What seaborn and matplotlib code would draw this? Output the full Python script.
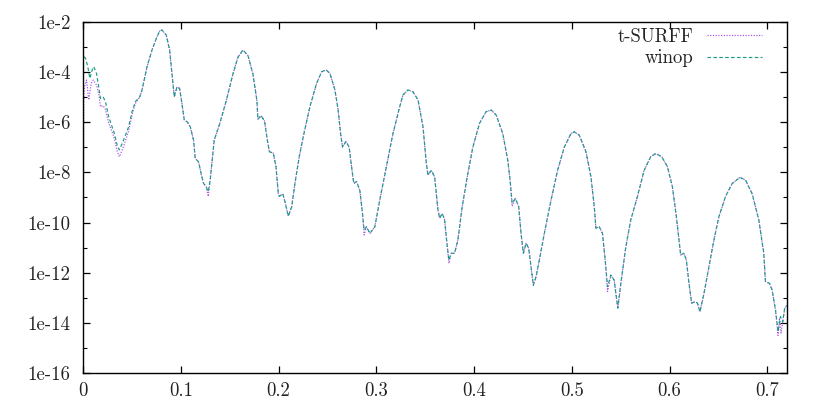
import matplotlib
matplotlib.use("Agg")
import matplotlib.pyplot as plt
import matplotlib.ticker as mticker
import seaborn as sns
import pandas as pd

# ---- data (x, spectrum value) ----
winop_x = [0.0010, 0.0026, 0.0049, 0.0070, 0.0094, 0.0110, 0.0138, 0.0161, 0.0179, 0.0206,
           0.0230, 0.0263, 0.0298, 0.0321, 0.0349, 0.0372, 0.0400, 0.0434, 0.0467, 0.0502,
           0.0536, 0.0580, 0.0604, 0.0655, 0.0706, 0.0757, 0.0785, 0.0808, 0.0852, 0.0886,
           0.0910, 0.0934, 0.0961, 0.0988, 0.1012, 0.1036, 0.1069, 0.1097, 0.1131, 0.1148,
           0.1182, 0.1216, 0.1233, 0.1260, 0.1281, 0.1301, 0.1318, 0.1342, 0.1398, 0.1466,
           0.1534, 0.1585, 0.1636, 0.1687, 0.1738, 0.1779, 0.1789, 0.1823, 0.1857, 0.1886,
           0.1906, 0.1947, 0.1974, 0.1998, 0.2010, 0.2043, 0.2066, 0.2100, 0.2135, 0.2168,
           0.2212, 0.2253, 0.2321, 0.2390, 0.2441, 0.2485, 0.2526, 0.2577, 0.2610, 0.2635,
           0.2655, 0.2689, 0.2723, 0.2747, 0.2770, 0.2798, 0.2832, 0.2859, 0.2876, 0.2900,
           0.2934, 0.2985, 0.3036, 0.3104, 0.3171, 0.3240, 0.3273, 0.3325, 0.3376, 0.3427,
           0.3478, 0.3512, 0.3529, 0.3563, 0.3597, 0.3631, 0.3648, 0.3675, 0.3699, 0.3723,
           0.3743, 0.3767, 0.3801, 0.3835, 0.3879, 0.3937, 0.3988, 0.4056, 0.4124, 0.4176,
           0.4227, 0.4294, 0.4345, 0.4369, 0.4390, 0.4423, 0.4457, 0.4481, 0.4505, 0.4533,
           0.4559, 0.4583, 0.4607, 0.4635, 0.4668, 0.4719, 0.4788, 0.4855, 0.4923, 0.4992,
           0.5026, 0.5077, 0.5145, 0.5196, 0.5230, 0.5247, 0.5281, 0.5314, 0.5342, 0.5366,
           0.5400, 0.5434, 0.5451, 0.5471, 0.5502, 0.5553, 0.5604, 0.5672, 0.5740, 0.5808,
           0.5859, 0.5920, 0.5978, 0.6029, 0.6070, 0.6114, 0.6148, 0.6172, 0.6199, 0.6226,
           0.6260, 0.6285, 0.6311, 0.6352, 0.6403, 0.6454, 0.6505, 0.6573, 0.6641, 0.6720,
           0.6777, 0.6845, 0.6913, 0.6964, 0.6981, 0.7022, 0.7049, 0.7084, 0.7110, 0.7135,
           0.7158, 0.7178, 0.7200]
winop_y = [4.0e-4, 3.5e-4, 1.6e-4, 5.5e-5, 1.2e-4, 1.6e-4, 8.7e-5, 2.5e-5, 8.7e-6, 1.0e-5,
           6.5e-6, 1.6e-6, 6.5e-7, 3.5e-7, 1.2e-7, 7.8e-8, 1.4e-7, 3.0e-7, 6.5e-7, 2.6e-6,
           6.5e-6, 1.0e-5, 1.9e-5, 1.6e-4, 7.4e-4, 2.5e-3, 4.2e-3, 4.6e-3, 2.9e-3, 7.4e-4,
           8.7e-5, 1.0e-5, 2.5e-5, 2.2e-5, 5.5e-6, 1.2e-6, 1.0e-6, 6.5e-7, 1.9e-7, 3.6e-8,
           2.6e-8, 6.6e-9, 3.6e-9, 2.7e-9, 1.7e-9, 4.9e-9, 2.3e-8, 1.9e-7, 8.5e-7, 7.2e-6,
           8.3e-5, 3.8e-4, 7.4e-4, 4.5e-4, 8.3e-5, 7.2e-6, 1.3e-6, 1.8e-6, 1.1e-6, 1.9e-7,
           6.6e-8, 5.8e-8, 1.7e-8, 1.4e-9, 1.1e-9, 1.4e-9, 6.8e-10, 1.8e-10, 4.3e-10, 3.6e-9,
           4.2e-8, 2.6e-7, 4.1e-6, 3.5e-5, 1.0e-4, 1.2e-4, 8.7e-5, 1.9e-5, 3.0e-6, 3.5e-7,
           1.0e-7, 1.7e-7, 1.0e-7, 1.7e-8, 3.6e-9, 4.3e-9, 1.9e-9, 2.3e-10, 5.0e-11, 6.8e-11,
           3.7e-11, 6.8e-11, 7.9e-10, 1.7e-8, 3.5e-7, 4.1e-6, 1.2e-5, 1.9e-5, 1.6e-5, 7.6e-6,
           6.5e-7, 2.3e-8, 7.8e-9, 1.2e-8, 6.6e-9, 3.2e-10, 1.5e-10, 2.3e-10, 1.3e-10, 1.5e-11,
           3.2e-12, 6.0e-12, 6.0e-12, 2.0e-11, 4.3e-10, 9.1e-9, 1.0e-7, 8.9e-7, 2.6e-6, 3.0e-6,
           1.9e-6, 3.5e-7, 3.1e-8, 4.9e-9, 5.9e-10, 9.1e-10, 4.3e-10, 3.7e-11, 6.0e-12, 1.5e-11,
           9.5e-12, 1.7e-12, 3.2e-13, 7.1e-13, 3.2e-12, 3.7e-11, 7.9e-10, 1.2e-8, 1.0e-7, 3.5e-7,
           4.1e-7, 3.0e-7, 6.6e-8, 6.6e-9, 4.3e-10, 5.9e-11, 6.8e-11, 3.7e-11, 3.2e-12, 2.8e-13,
           8.1e-13, 5.1e-13, 1.5e-13, 3.9e-14, 3.8e-13, 1.1e-11, 1.3e-10, 1.1e-9, 1.2e-8, 4.2e-8,
           5.6e-8, 4.2e-8, 1.7e-8, 2.7e-9, 1.7e-10, 5.1e-12, 6.0e-12, 3.2e-12, 3.8e-13, 6.2e-14,
           7.1e-14, 6.3e-14, 2.8e-14, 1.5e-13, 1.7e-12, 2.0e-11, 1.7e-10, 1.1e-9, 3.6e-9, 6.3e-9,
           4.9e-9, 1.4e-9, 1.3e-10, 6.0e-12, 4.5e-13, 3.8e-13, 2.1e-13, 3.3e-14, 4.6e-15, 1.8e-14,
           1.1e-14, 3.9e-14, 5.0e-14]

tsurff_x = [0.0000, 0.0008, 0.0015, 0.0036, 0.0059, 0.0084, 0.0104, 0.0138, 0.0161, 0.0179,
            0.0206, 0.0230, 0.0263, 0.0298, 0.0321, 0.0349, 0.0372, 0.0400, 0.0434, 0.0467,
            0.0502, 0.0536, 0.0580, 0.0604, 0.0655, 0.0706, 0.0757, 0.0785, 0.0808, 0.0852,
            0.0886, 0.0910, 0.0934, 0.0961, 0.0988, 0.1012, 0.1036, 0.1069, 0.1097, 0.1131,
            0.1148, 0.1182, 0.1216, 0.1233, 0.1260, 0.1281, 0.1301, 0.1318, 0.1342, 0.1398,
            0.1466, 0.1534, 0.1585, 0.1636, 0.1687, 0.1738, 0.1779, 0.1789, 0.1823, 0.1857,
            0.1886, 0.1906, 0.1947, 0.1974, 0.1998, 0.2010, 0.2043, 0.2066, 0.2100, 0.2135,
            0.2168, 0.2212, 0.2253, 0.2321, 0.2390, 0.2441, 0.2485, 0.2526, 0.2577, 0.2610,
            0.2635, 0.2655, 0.2689, 0.2723, 0.2747, 0.2770, 0.2798, 0.2832, 0.2859, 0.2876,
            0.2900, 0.2934, 0.2985, 0.3036, 0.3104, 0.3171, 0.3240, 0.3273, 0.3325, 0.3376,
            0.3427, 0.3478, 0.3512, 0.3529, 0.3563, 0.3597, 0.3631, 0.3648, 0.3675, 0.3699,
            0.3723, 0.3743, 0.3767, 0.3801, 0.3835, 0.3879, 0.3937, 0.3988, 0.4056, 0.4124,
            0.4176, 0.4227, 0.4294, 0.4345, 0.4369, 0.4390, 0.4423, 0.4457, 0.4481, 0.4505,
            0.4533, 0.4559, 0.4583, 0.4607, 0.4635, 0.4668, 0.4719, 0.4788, 0.4855, 0.4923,
            0.4992, 0.5026, 0.5077, 0.5145, 0.5196, 0.5230, 0.5247, 0.5281, 0.5314, 0.5342,
            0.5366, 0.5400, 0.5434, 0.5451, 0.5471, 0.5502, 0.5553, 0.5604, 0.5672, 0.5740,
            0.5808, 0.5859, 0.5920, 0.5978, 0.6029, 0.6070, 0.6114, 0.6148, 0.6172, 0.6199,
            0.6226, 0.6260, 0.6285, 0.6311, 0.6352, 0.6403, 0.6454, 0.6505, 0.6573, 0.6641,
            0.6720, 0.6777, 0.6845, 0.6913, 0.6964, 0.6981, 0.7022, 0.7049, 0.7084, 0.7110,
            0.7125, 0.7140, 0.7158, 0.7178, 0.7200]
tsurff_y = [1.0e-17, 1.0e-5, 2.5e-5, 4.7e-5, 7.6e-6, 3.5e-5, 4.7e-5, 3.0e-5, 1.3e-5, 4.1e-6,
            4.5e-6, 3.2e-6, 9.0e-7, 4.0e-7, 2.2e-7, 7.0e-8, 4.2e-8, 7.5e-8, 1.8e-7, 4.5e-7,
            2.0e-6, 5.5e-6, 1.0e-5, 1.9e-5, 1.6e-4, 7.4e-4, 2.5e-3, 4.2e-3, 4.6e-3, 2.9e-3,
            7.4e-4, 8.7e-5, 1.0e-5, 2.5e-5, 2.2e-5, 5.5e-6, 1.2e-6, 1.0e-6, 6.5e-7, 1.9e-7,
            3.6e-8, 2.6e-8, 6.6e-9, 3.6e-9, 2.7e-9, 1.1e-9, 4.9e-9, 2.3e-8, 1.9e-7, 8.5e-7,
            7.2e-6, 8.3e-5, 3.8e-4, 7.4e-4, 4.5e-4, 8.3e-5, 7.2e-6, 1.3e-6, 1.8e-6, 1.1e-6,
            1.9e-7, 6.6e-8, 5.8e-8, 1.7e-8, 1.4e-9, 1.1e-9, 1.4e-9, 6.8e-10, 1.8e-10, 4.3e-10,
            3.6e-9, 4.2e-8, 2.6e-7, 4.1e-6, 3.5e-5, 1.0e-4, 1.2e-4, 8.7e-5, 1.9e-5, 3.0e-6,
            3.5e-7, 1.0e-7, 1.7e-7, 1.0e-7, 1.7e-8, 3.6e-9, 4.3e-9, 1.9e-9, 2.3e-10, 3.2e-11,
            6.8e-11, 3.7e-11, 6.8e-11, 7.9e-10, 1.7e-8, 3.5e-7, 4.1e-6, 1.2e-5, 1.9e-5, 1.6e-5,
            7.6e-6, 6.5e-7, 2.3e-8, 7.8e-9, 1.2e-8, 6.6e-9, 3.2e-10, 1.5e-10, 2.3e-10, 1.3e-10,
            1.5e-11, 2.4e-12, 6.0e-12, 6.0e-12, 2.0e-11, 4.3e-10, 9.1e-9, 1.0e-7, 8.9e-7, 2.6e-6,
            3.0e-6, 1.9e-6, 3.5e-7, 3.1e-8, 4.9e-9, 4.5e-10, 9.1e-10, 4.3e-10, 3.7e-11, 6.0e-12,
            1.5e-11, 9.5e-12, 1.7e-12, 3.2e-13, 7.1e-13, 3.2e-12, 3.7e-11, 7.9e-10, 1.2e-8, 1.0e-7,
            3.5e-7, 4.1e-7, 3.0e-7, 6.6e-8, 6.6e-9, 4.3e-10, 5.9e-11, 6.8e-11, 3.7e-11, 3.2e-12,
            1.8e-13, 8.1e-13, 5.1e-13, 1.5e-13, 3.9e-14, 3.8e-13, 1.1e-11, 1.3e-10, 1.1e-9, 1.2e-8,
            4.2e-8, 5.6e-8, 4.2e-8, 1.7e-8, 2.7e-9, 1.7e-10, 5.1e-12, 6.0e-12, 3.2e-12, 3.8e-13,
            6.2e-14, 7.1e-14, 6.3e-14, 2.8e-14, 1.5e-13, 1.7e-12, 2.0e-11, 1.7e-10, 1.1e-9, 3.6e-9,
            6.3e-9, 4.9e-9, 1.4e-9, 1.3e-10, 6.0e-12, 4.5e-13, 3.8e-13, 2.1e-13, 3.3e-14, 3.2e-15,
            1.6e-14, 4.0e-15, 1.1e-14, 3.9e-14, 5.0e-14]

x_ticks = [0.0, 0.1, 0.2, 0.3, 0.4, 0.5, 0.6, 0.7]
x_ticklabels = ["0", "0.1", "0.2", "0.3", "0.4", "0.5", "0.6", "0.7"]
y_ticks = [1e-16, 1e-14, 1e-12, 1e-10, 1e-8, 1e-6, 1e-4, 1e-2]
y_ticklabels = ["1e-16", "1e-14", "1e-12", "1e-10", "1e-8", "1e-6", "1e-4", "1e-2"]
y_minor = [1e-15, 1e-13, 1e-11, 1e-9, 1e-7, 1e-5, 1e-3]

# ---- style ----
sns.set_theme(style="ticks")
plt.rcParams["font.family"] = ["cmr10", "DejaVu Serif"]
plt.rcParams["axes.unicode_minus"] = False
plt.rcParams["axes.formatter.use_mathtext"] = True

FS = 13.5
fig = plt.figure(figsize=(8.3, 4.15), dpi=100)
ax = fig.add_axes([0.1, 0.1005, 0.848, 0.8475])

df_t = pd.DataFrame({"x": tsurff_x, "y": tsurff_y})
df_w = pd.DataFrame({"x": winop_x, "y": winop_y})

sns.lineplot(data=df_t, x="x", y="y", ax=ax, color="#a64de6", lw=0.85,
             linestyle=(0, (1, 1.3)), estimator=None, sort=False, label="t-SURFF")
sns.lineplot(data=df_w, x="x", y="y", ax=ax, color="#1a9c82", lw=0.85,
             linestyle=(0, (3, 2)), estimator=None, sort=False, label="winop")

ax.set_yscale("log")
ax.set_xlim(0, 0.72)
ax.set_ylim(1e-16, 1e-2)

ax.xaxis.set_major_locator(mticker.FixedLocator(x_ticks))
ax.xaxis.set_major_formatter(mticker.FixedFormatter(x_ticklabels))
ax.xaxis.set_minor_locator(mticker.NullLocator())
ax.yaxis.set_major_locator(mticker.FixedLocator(y_ticks))
ax.yaxis.set_major_formatter(mticker.FixedFormatter(y_ticklabels))
ax.yaxis.set_minor_locator(mticker.FixedLocator(y_minor))
ax.yaxis.set_minor_formatter(mticker.NullFormatter())

ax.tick_params(which="major", direction="in", length=5, width=0.9,
               top=True, right=True, labelsize=FS, color="black", labelcolor="#222222")
ax.tick_params(which="minor", direction="in", length=3, width=0.8,
               top=False, right=True, left=True, color="black")
ax.tick_params(axis="y", which="major", pad=9)
ax.tick_params(axis="x", which="major", pad=6)
for sp in ax.spines.values():
    sp.set_visible(True)
    sp.set_linewidth(1.0)
    sp.set_color("black")

ax.set_xlabel("")
ax.set_ylabel("")

leg = ax.legend(loc="upper right", frameon=False, markerfirst=False,
                fontsize=FS, handlelength=2.9, handletextpad=0.75,
                labelspacing=0.2, borderaxespad=0.3,
                bbox_to_anchor=(0.983, 1.02))
for t in leg.get_texts():
    t.set_color("#222222")

fig.savefig("out.png", dpi=100)
